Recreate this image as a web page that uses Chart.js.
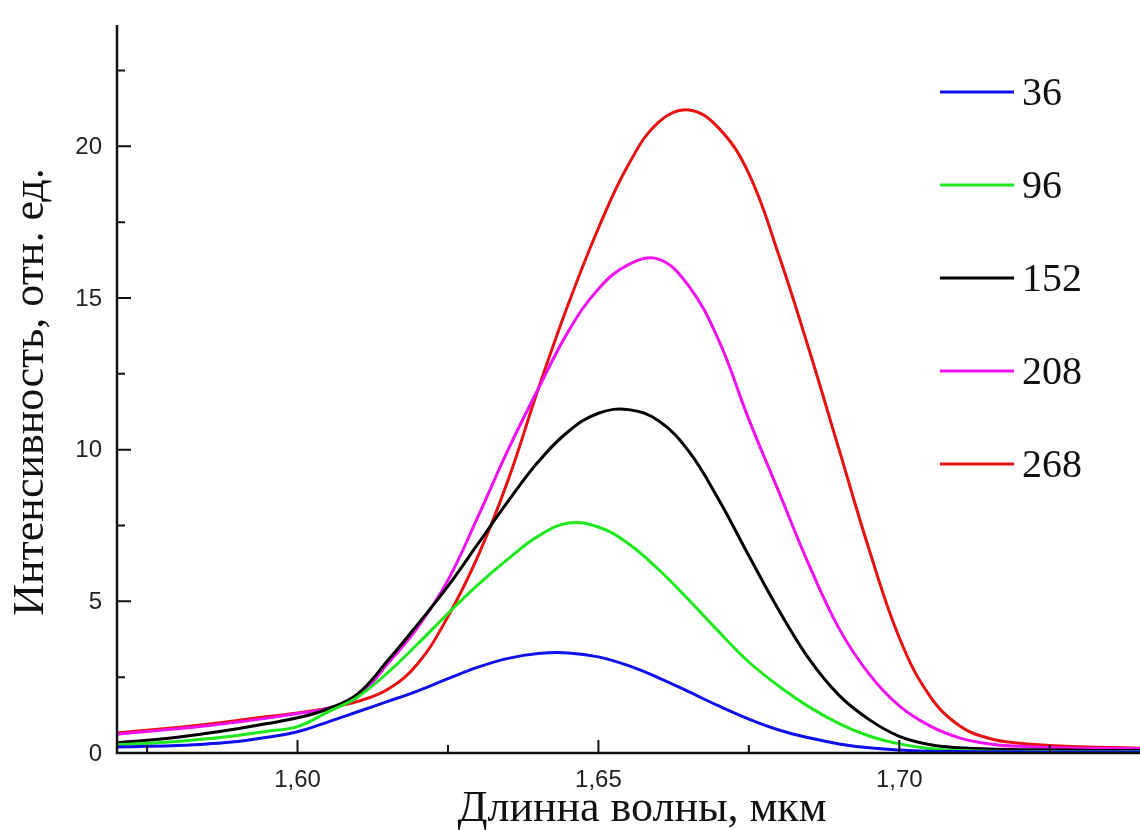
<!DOCTYPE html>
<html>
<head>
<meta charset="utf-8">
<script src="https://cdn.jsdelivr.net/npm/chart.js@4.4.1/dist/chart.umd.min.js"></script>
<style>
  html, body { margin: 0; padding: 0; background: #fff; }
  #wrap { width: 1140px; height: 830px; position: relative; }
</style>
</head>
<body>
<div id="wrap"><canvas id="spectra"></canvas></div>
<script>
// wavelength, um
const wavelengths = [1.570, 1.575, 1.580, 1.585, 1.590, 1.595, 1.600, 1.605, 1.610, 1.615,
                     1.620, 1.625, 1.630, 1.635, 1.640, 1.645, 1.650, 1.655, 1.660, 1.665,
                     1.670, 1.675, 1.680, 1.685, 1.690, 1.695, 1.700, 1.705, 1.710, 1.715,
                     1.720, 1.725, 1.730, 1.735, 1.740];

const seriesNames = ["36", "96", "152", "208", "268"];
const seriesColors = ["#1010ee", "#1ee81e", "#000000", "#f010f0", "#e81010"];

const s36  = [0.20, 0.22, 0.25, 0.30, 0.38, 0.52, 0.70, 1.02, 1.36, 1.70,
              2.05, 2.45, 2.83, 3.12, 3.28, 3.30, 3.17, 2.88, 2.48, 2.02,
              1.55, 1.12, 0.76, 0.50, 0.30, 0.17, 0.10, 0.06, 0.05, 0.04,
              0.04, 0.03, 0.03, 0.03, 0.03];
const s96  = [0.27, 0.32, 0.38, 0.47, 0.58, 0.72, 0.87, 1.35, 1.85, 2.65,
              3.60, 4.60, 5.55, 6.40, 7.15, 7.58, 7.45, 6.90, 6.05, 5.05,
              4.00, 3.00, 2.20, 1.52, 0.97, 0.56, 0.30, 0.15, 0.08, 0.06,
              0.05, 0.05, 0.04, 0.04, 0.04];
const s152 = [0.34, 0.42, 0.52, 0.65, 0.80, 0.97, 1.16, 1.45, 1.95, 3.05,
              4.25, 5.50, 6.90, 8.30, 9.60, 10.60, 11.20, 11.32, 10.95, 9.95,
              8.35, 6.50, 4.70, 3.10, 1.90, 1.10, 0.55, 0.28, 0.17, 0.13,
              0.11, 0.10, 0.09, 0.08, 0.08];
const s208 = [0.62, 0.71, 0.80, 0.90, 1.02, 1.15, 1.30, 1.47, 1.85, 2.95,
              4.15, 5.70, 7.80, 10.00, 12.00, 13.90, 15.30, 16.10, 16.28, 15.40,
              13.60, 11.00, 8.60, 6.20, 4.10, 2.60, 1.55, 0.90, 0.50, 0.30,
              0.22, 0.18, 0.16, 0.15, 0.14];
const s268 = [0.66, 0.75, 0.84, 0.95, 1.07, 1.20, 1.32, 1.48, 1.70, 2.10,
              2.95, 4.50, 6.50, 9.00, 12.00, 14.80, 17.30, 19.40, 20.80, 21.20,
              20.60, 19.10, 16.40, 13.30, 10.00, 6.70, 3.80, 1.90, 0.90, 0.48,
              0.32, 0.25, 0.21, 0.18, 0.16];

const allSeries = [s36, s96, s152, s208, s268];

const xMajorTicks = [1.60, 1.65, 1.70];
const xMinorTicks = [1.575, 1.625, 1.675, 1.725];
const yMajorTicks = [0, 5, 10, 15, 20];
const yMinorTicks = [2.5, 7.5, 12.5, 17.5, 22.5];

const xTitle = "Длинна волны, мкм";
const yTitle = "Интенсивность, отн. ед.";

function toPoints(values) {
    return values.map((v, i) => ({ x: wavelengths[i], y: v }));
}

function formatWl(v) {
    return v.toFixed(2).replace(".", ",");
}

// axes with inward ticks, tick labels, titles
const axesPlugin = {
    id: "axesPlugin",
    afterDatasetsDraw(chart) {
        const ctx = chart.ctx;
        const xs = chart.scales.x;
        const ys = chart.scales.y;
        const area = chart.chartArea;
        const x0 = area.left;
        const y0 = ys.getPixelForValue(0);

        ctx.save();
        ctx.strokeStyle = "#111";
        ctx.lineWidth = 2.5;
        ctx.beginPath();
        ctx.moveTo(x0, area.top);
        ctx.lineTo(x0, y0);
        ctx.lineTo(area.right, y0);
        ctx.stroke();

        ctx.lineWidth = 2;
        ctx.beginPath();
        yMajorTicks.forEach(t => {
            const p = ys.getPixelForValue(t);
            ctx.moveTo(x0, p); ctx.lineTo(x0 + 14, p);
        });
        yMinorTicks.forEach(t => {
            const p = ys.getPixelForValue(t);
            ctx.moveTo(x0, p); ctx.lineTo(x0 + 8, p);
        });
        xMajorTicks.forEach(t => {
            const p = xs.getPixelForValue(t);
            ctx.moveTo(p, y0); ctx.lineTo(p, y0 - 13);
        });
        xMinorTicks.forEach(t => {
            const p = xs.getPixelForValue(t);
            ctx.moveTo(p, y0); ctx.lineTo(p, y0 - 8);
        });
        ctx.stroke();

        ctx.fillStyle = "#222";
        ctx.font = "24px 'Liberation Sans', Arial, sans-serif";
        ctx.textAlign = "right";
        ctx.textBaseline = "middle";
        yMajorTicks.forEach(t => {
            ctx.fillText(String(t), x0 - 15, ys.getPixelForValue(t) + 1);
        });
        ctx.textAlign = "center";
        ctx.textBaseline = "alphabetic";
        xMajorTicks.forEach(t => {
            ctx.fillText(formatWl(t), xs.getPixelForValue(t), y0 + 34);
        });

        ctx.fillStyle = "#111";
        ctx.font = "44px 'Liberation Serif', 'Times New Roman', serif";
        ctx.fillText(xTitle, 642, 821);

        ctx.save();
        ctx.translate(43, 392);
        ctx.rotate(-Math.PI / 2);
        ctx.fillText(yTitle, 0, 0);
        ctx.restore();
        ctx.restore();
    }
};

// legend in the upper right, inside the plot
const legendPlugin = {
    id: "legendPlugin",
    afterDraw(chart) {
        const ctx = chart.ctx;
        ctx.save();
        ctx.font = "40px 'Liberation Serif', 'Times New Roman', serif";
        ctx.textAlign = "left";
        ctx.textBaseline = "alphabetic";
        chart.data.datasets.forEach((ds, i) => {
            const y = 92 + i * 93;
            ctx.strokeStyle = ds.borderColor;
            ctx.lineWidth = 3;
            ctx.beginPath();
            ctx.moveTo(940, y);
            ctx.lineTo(1014, y);
            ctx.stroke();
            ctx.fillStyle = "#111";
            ctx.fillText(ds.label, 1022, y + 13);
        });
        ctx.restore();
    }
};

new Chart(document.getElementById("spectra"), {
    type: "line",
    data: {
        datasets: allSeries.map((s, i) => ({
            label: seriesNames[i],
            data: toPoints(s),
            borderColor: seriesColors[i],
            borderWidth: 3,
            pointRadius: 0,
            fill: false,
            tension: 0.4
        }))
    },
    options: {
        responsive: true,
        maintainAspectRatio: false,
        animation: false,
        layout: { padding: { left: 117, top: 25, right: 0, bottom: 77 } },
        scales: {
            x: { type: "linear", min: 1.57, max: 1.74, display: false },
            y: { type: "linear", min: 0, max: 24, display: false }
        },
        plugins: {
            legend: { display: false },
            tooltip: { enabled: false }
        }
    },
    plugins: [axesPlugin, legendPlugin]
});
</script>
</body>
</html>
